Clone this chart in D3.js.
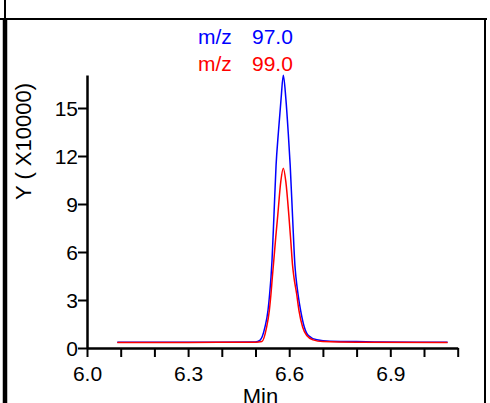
<!DOCTYPE html>
<html>
<head>
<meta charset="utf-8">
<script src="https://cdn.jsdelivr.net/npm/d3@7"></script>
<style>
  html, body { margin: 0; padding: 0; background: #fff; }
  svg { display: block; }
  text { font-family: "Liberation Sans", Arial, Helvetica, sans-serif; }
</style>
</head>
<body>
<svg id="chart" width="490" height="403"></svg>
<script>
// ---- data ----
const seriesNames = ["m/z", "m/z"];
const seriesLabels = ["97.0", "99.0"];
const seriesColors = ["#0000ff", "#ff0000"];

const blueTimes  = [6.09, 6.30, 6.50, 6.513, 6.528, 6.537, 6.542, 6.546, 6.549, 6.555, 6.561, 6.568, 6.576, 6.5825, 6.590, 6.597, 6.603, 6.610, 6.617, 6.620, 6.626, 6.634, 6.645, 6.657, 6.682, 6.721, 6.80, 6.87, 7.07];
const blueValues = [0.36, 0.36, 0.37, 0.47, 1.30, 2.34, 3.39, 4.43, 5.47, 8.40, 11.4, 13.5, 15.6, 17.05, 15.6, 13.5, 11.4, 8.20, 5.16, 4.43, 3.39, 2.34, 1.30, 0.78, 0.51, 0.42, 0.40, 0.37, 0.36];

const redTimes  = [6.09, 6.30, 6.50, 6.519, 6.533, 6.541, 6.546, 6.550, 6.553, 6.560, 6.566, 6.575, 6.5825, 6.590, 6.599, 6.605, 6.610, 6.614, 6.622, 6.629, 6.640, 6.652, 6.671, 6.70, 6.80, 7.07];
const redValues = [0.35, 0.35, 0.36, 0.40, 1.30, 2.34, 3.39, 4.43, 5.16, 6.90, 8.28, 10.4, 11.24, 10.4, 8.28, 6.60, 5.16, 4.43, 3.39, 2.34, 1.30, 0.78, 0.51, 0.40, 0.36, 0.35];

const xTicks = [6.0, 6.1, 6.2, 6.3, 6.4, 6.5, 6.6, 6.7, 6.8, 6.9, 7.0, 7.1];
const xTickLabels = ["6.0", "", "", "6.3", "", "", "6.6", "", "", "6.9", "", ""];
const yTicks = [0, 3, 6, 9, 12, 15];
const yTickLabels = ["0", "3", "6", "9", "12", "15"];
const xTitle = "Min";
const yTitle = "Y ( X10000)";

// ---- drawing ----
const svg = d3.select("#chart");

// frame
svg.append("line").attr("x1", 0).attr("x2", 487).attr("y1", 19).attr("y2", 19)
  .attr("stroke", "#000").attr("stroke-width", 2);
svg.append("line").attr("x1", 485).attr("x2", 485).attr("y1", 18).attr("y2", 403)
  .attr("stroke", "#000").attr("stroke-width", 2);
svg.append("line").attr("x1", 5).attr("x2", 5).attr("y1", 0).attr("y2", 19)
  .attr("stroke", "#000").attr("stroke-width", 2);
svg.append("line").attr("x1", 5).attr("x2", 5).attr("y1", 18).attr("y2", 403)
  .attr("stroke", "#000").attr("stroke-width", 4.5);

const x = d3.scaleLinear().domain([6.0, 7.1]).range([87, 457.7]);
const y = d3.scaleLinear().domain([0, 17.0625]).range([348, 75]);

const xAxis = d3.axisBottom(x).tickValues(xTicks)
  .tickFormat((d, i) => xTickLabels[i]).tickSize(9).tickSizeOuter(0).tickPadding(9);
const yAxis = d3.axisLeft(y).tickValues(yTicks)
  .tickFormat((d, i) => yTickLabels[i]).tickSize(9).tickSizeOuter(0).tickPadding(0);

const gx = svg.append("g").attr("transform", "translate(0,348)").call(xAxis);
const gy = svg.append("g").attr("transform", "translate(87,0)").call(yAxis);

[gx, gy].forEach(g => {
  g.selectAll("path.domain").attr("stroke", "#000").attr("stroke-width", 2.5);
  g.selectAll(".tick line").attr("stroke", "#000").attr("stroke-width", 2);
  g.selectAll(".tick text").attr("fill", "#000").style("font-size", "21px")
    .style("font-family", '"Liberation Sans", Arial, sans-serif');
});
gx.selectAll(".tick text").attr("dy", "0.71em");
gy.selectAll(".tick text").attr("dy", "0.36em");

// lines
const line = d3.line().x(d => x(d[0])).y(d => y(d[1])).curve(d3.curveMonotoneX);
const blueData = blueTimes.map((t, i) => [t, blueValues[i]]);
const redData = redTimes.map((t, i) => [t, redValues[i]]);

svg.append("path").datum(blueData).attr("d", line)
  .attr("fill", "none").attr("stroke", seriesColors[0]).attr("stroke-width", 1.5);
svg.append("path").datum(redData).attr("d", line)
  .attr("fill", "none").attr("stroke", seriesColors[1]).attr("stroke-width", 1.5);

// legend / titles
const legendY = [43.5, 70.5];
seriesLabels.forEach((lab, i) => {
  const t = svg.append("text").attr("y", legendY[i]).attr("fill", seriesColors[i])
    .style("font-size", "21px");
  t.append("tspan").attr("x", 198).text(seriesNames[i]);
  t.append("tspan").attr("x", 252).text(lab);
});

// axis titles
svg.append("text").attr("x", 260.5).attr("y", 403.5).attr("text-anchor", "middle")
  .style("font-size", "22px").attr("fill", "#000").text(xTitle);
svg.append("text").attr("transform", "translate(31,141.5) rotate(-90)")
  .attr("text-anchor", "middle").style("font-size", "22px").attr("fill", "#000").text(yTitle);
</script>
</body>
</html>
